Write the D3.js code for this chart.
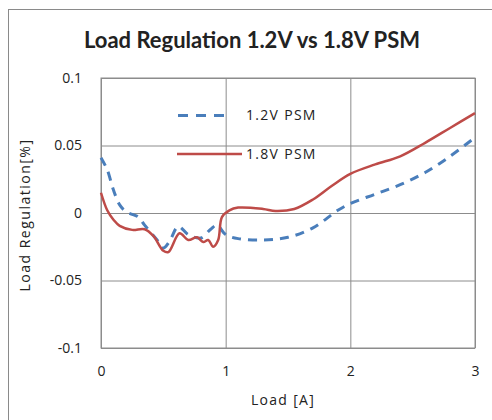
<!DOCTYPE html>
<html>
<head>
<meta charset="utf-8">
<script src="https://cdn.jsdelivr.net/npm/d3@7"></script>
<style>
  body { margin: 0; background: #fff; }
  text { font-family: "Open Sans", sans-serif; fill: #222; }
</style>
</head>
<body>
<div id="chart"></div>
<script>
var svgWidth = 492;
var svgHeight = 420;

// plot area inside the svg
var margin = { top: 78, bottom: 72, left: 101, right: 17 };
var width = svgWidth - (margin.left + margin.right);
var height = svgHeight - (margin.top + margin.bottom);

// data
var load12 = [0, 0.05, 0.1, 0.15, 0.2, 0.25, 0.3, 0.35, 0.45, 0.5, 0.55, 0.62, 0.7, 0.8, 0.88, 0.93, 1.0, 1.1, 1.3, 1.5, 1.7, 1.9, 2.0, 2.2, 2.4, 2.6, 2.8, 3.0];
var reg12 = [0.041, 0.032, 0.017, 0.006, 0.001, -0.001, -0.003, -0.009, -0.020, -0.026, -0.021, -0.010, -0.016, -0.0185, -0.012, -0.009, -0.016, -0.019, -0.020, -0.018, -0.011, 0.002, 0.007, 0.014, 0.021, 0.030, 0.042, 0.056];

var load18 = [0, 0.05, 0.1, 0.15, 0.25, 0.35, 0.42, 0.5, 0.54, 0.63, 0.7, 0.77, 0.82, 0.86, 0.9, 0.94, 0.97, 1.03, 1.1, 1.3, 1.4, 1.55, 1.7, 1.85, 2.0, 2.2, 2.4, 2.6, 2.8, 3.0];
var reg18 = [0.015, 0.002, -0.005, -0.0095, -0.0125, -0.012, -0.017, -0.028, -0.029, -0.015, -0.020, -0.018, -0.0215, -0.020, -0.025, -0.020, -0.003, 0.002, 0.004, 0.003, 0.0015, 0.003, 0.010, 0.020, 0.029, 0.036, 0.042, 0.052, 0.063, 0.074];

var xTicks = [0, 1, 2, 3];
var yTicks = [-0.1, -0.05, 0, 0.05, 0.1];
var seriesNames = ["1.2V PSM", "1.8V PSM"];
var seriesColors = ["#4a7ebb", "#be4b48"];

var svg = d3.select("#chart")
    .append("svg")
    .attr("width", svgWidth)
    .attr("height", svgHeight);

// outer chart border (only top and left show inside the window)
svg.append("rect")
    .attr("x", 8.5)
    .attr("y", 9.5)
    .attr("width", 500)
    .attr("height", 430)
    .attr("fill", "none")
    .attr("stroke", "#8a8a8a")
    .attr("stroke-width", 1);

svg.append("text")
    .attr("x", 252)
    .attr("y", 48)
    .attr("text-anchor", "middle")
    .style("font-family", "Lato, sans-serif")
    .style("font-size", "22px")
    .style("font-weight", "bold")
    .text("Load Regulation 1.2V vs 1.8V PSM");

var chart = svg.append("g")
    .attr("transform", `translate(${margin.left}, ${margin.top})`);

var x = d3.scaleLinear().domain([0, 3]).range([0, width]);
var y = d3.scaleLinear().domain([-0.1, 0.1]).range([height, 0]);

// gridlines
chart.append("g")
    .call(d3.axisLeft(y).tickValues(yTicks).tickSize(-width).tickFormat(""))
    .call(g => g.select(".domain").remove())
    .selectAll("line").attr("stroke", "#8c8c8c");
chart.append("g")
    .attr("transform", `translate(0,${height})`)
    .call(d3.axisBottom(x).tickValues(xTicks).tickSize(-height).tickFormat(""))
    .call(g => g.select(".domain").remove())
    .selectAll("line").attr("stroke", "#8c8c8c");

chart.append("rect")
    .attr("width", width)
    .attr("height", height)
    .attr("fill", "none")
    .attr("stroke", "#8c8c8c");

// tick labels
var yAxis = chart.append("g")
    .call(d3.axisLeft(y).tickValues(yTicks).tickSize(0).tickPadding(19).tickFormat(d => String(+d.toFixed(2))));
yAxis.select(".domain").remove();
yAxis.selectAll("text").style("font-size", "14px").style("font-family", "'Open Sans', sans-serif").attr("fill", "#222");

var xAxis = chart.append("g")
    .attr("transform", `translate(0,${height})`)
    .call(d3.axisBottom(x).tickValues(xTicks).tickSize(0).tickPadding(18).tickFormat(d => String(d)));
xAxis.select(".domain").remove();
xAxis.selectAll("text").style("font-size", "14px").style("font-family", "'Open Sans', sans-serif").attr("fill", "#222");

// axis titles
chart.append("text")
    .attr("transform", "rotate(-90)")
    .attr("x", -(215 - margin.top))
    .attr("y", 25 - margin.left)
    .attr("dy", "0.35em")
    .attr("text-anchor", "middle")
    .style("font-size", "14px")
    .style("letter-spacing", "1.5px")
    .text("Load Regulation[%]");

chart.append("text")
    .attr("x", 283 - margin.left)
    .attr("y", 400 - margin.top)
    .attr("dy", "0.35em")
    .attr("text-anchor", "middle")
    .style("font-size", "14px")
    .style("letter-spacing", "1.3px")
    .text("Load [A]");

var line = d3.line()
    .x(d => x(d[0]))
    .y(d => y(d[1]))
    .curve(d3.curveCatmullRom.alpha(0.5));

var data12 = load12.map((d, i) => [d, reg12[i]]);
var data18 = load18.map((d, i) => [d, reg18[i]]);

chart.append("path")
    .datum(data12)
    .attr("d", line)
    .attr("fill", "none")
    .attr("stroke", seriesColors[0])
    .attr("stroke-width", 3)
    .attr("stroke-dasharray", "9,7");

chart.append("path")
    .datum(data18)
    .attr("d", line)
    .attr("fill", "none")
    .attr("stroke", seriesColors[1])
    .attr("stroke-width", 2.5);

// legend
var legend = svg.append("g");
legend.append("line")
    .attr("x1", 178).attr("x2", 232)
    .attr("y1", 115.5).attr("y2", 115.5)
    .attr("stroke", seriesColors[0])
    .attr("stroke-width", 3)
    .attr("stroke-dasharray", "10,8");
legend.append("text")
    .attr("x", 246).attr("y", 115)
    .attr("dy", "0.35em")
    .style("font-size", "14px")
    .style("letter-spacing", "1.3px")
    .text(seriesNames[0]);
legend.append("line")
    .attr("x1", 177).attr("x2", 242)
    .attr("y1", 154).attr("y2", 154)
    .attr("stroke", seriesColors[1])
    .attr("stroke-width", 2.5);
legend.append("text")
    .attr("x", 246).attr("y", 154)
    .attr("dy", "0.35em")
    .style("font-size", "14px")
    .style("letter-spacing", "1.3px")
    .text(seriesNames[1]);
</script>
</body>
</html>
